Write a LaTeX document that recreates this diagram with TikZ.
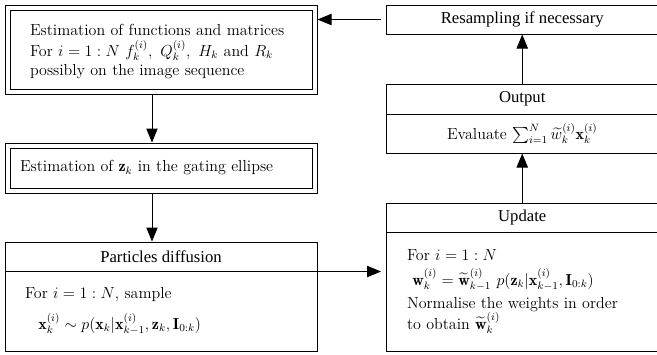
\documentclass[12pt,tikz,border=0pt]{standalone}
\usepackage{amsmath}
\usepackage{fontspec}
\newfontfamily\titlefont{Liberation Serif}
\usetikzlibrary{arrows.meta}

\tikzset{every picture/.style={line width=0.75pt}}

\begin{document}
\begin{tikzpicture}[x=0.75pt,y=0.75pt,yscale=-1,xscale=1,
  dblbox/.style={draw, double, double distance=3pt, outer sep=2.25pt, minimum width=230.25pt, align=left},
  headbox/.style={draw, minimum height=21.75pt, inner sep=0pt, font=\titlefont\fontsize{12.5}{15}\selectfont},
  bodybox/.style={draw, align=left},
  arr/.style={-{Triangle[length=10.5pt,width=8.5pt]}}]
\useasboundingbox (0,0) rectangle (657,354);

% Text Node
\node [dblbox, minimum height=63pt, inner xsep=16.9pt, text width=196.4pt] (estim) at (161,49.5) {\rule{0pt}{12pt}Estimation of functions and matrices\\[1pt] For $i=1:N\ f^{(i)}_k,\ Q^{(i)}_k,\ H_k$ and $R_k$\\ possibly on the image sequence};
% Text Node
\node [dblbox, minimum height=33.75pt, inner xsep=9.4pt, text width=211.4pt] (gate) at (161,168) {Estimation of $\mathbf{z}_k$ in the gating ellipse};
% Text Node
\node [headbox, minimum width=234pt] (ptitle) at (161,256.5) {Particles diffusion};
\node [bodybox, minimum width=234pt, minimum height=60pt, inner xsep=15pt, text width=204pt] (pbody) at (161,311) {For $i=1:N$, sample\\[9pt] \hspace*{10pt}$\mathbf{x}^{(i)}_k \sim p(\mathbf{x}_k|\mathbf{x}^{(i)}_{k-1},\mathbf{z}_k,\mathbf{I}_{0:k})$};

% Text Node
\node [headbox, minimum width=203.6pt] (resamp) at (522.25,19.5) {Resampling if necessary};
% Text Node
\node [headbox, minimum width=203.6pt, minimum height=22.5pt] (otitle) at (522.25,99) {Output};
\node [bodybox, minimum width=203.6pt, minimum height=29.25pt, align=center] (obody) at (522.25,133.5) {Evaluate $\sum_{i=1}^N \widetilde{w}^{(i)}_k\mathbf{x}^{(i)}_k$};
% Text Node
\node [headbox, minimum width=203.6pt] (utitle) at (522.25,217.5) {Update};
\node [bodybox, minimum width=203.6pt, minimum height=89.25pt, inner xsep=15.4pt, text width=172.8pt] (ubody) at (522.25,291.5) {For $i=1:N$\\[4pt] \hspace*{4pt}$\mathbf{w}^{(i)}_k = \widetilde{\mathbf{w}}^{(i)}_{k-1}\ p(\mathbf{z}_k|\mathbf{x}^{(i)}_{k-1},\mathbf{I}_{0:k})$\\[3pt] Normalise the weights in order\\ to obtain $\widetilde{\mathbf{w}}^{(i)}_k$};

%Straight Lines
\draw [arr] ([xshift=-6.75pt]estim.south) -- ([xshift=-6.75pt]gate.north);
\draw [arr] ([xshift=-6.75pt]gate.south) -- ([xshift=-6.75pt]ptitle.north);
\draw [arr, shorten >=3.75pt] (ptitle.south east) -- (ptitle.south east -| ubody.west);
\draw [arr] (utitle.north) -- (obody.south);
\draw [arr] (otitle.north) -- (resamp.south);
\draw [arr, shorten <=3.75pt] (resamp.west) -- (resamp.west -| estim.east);

\end{tikzpicture}
\end{document}
